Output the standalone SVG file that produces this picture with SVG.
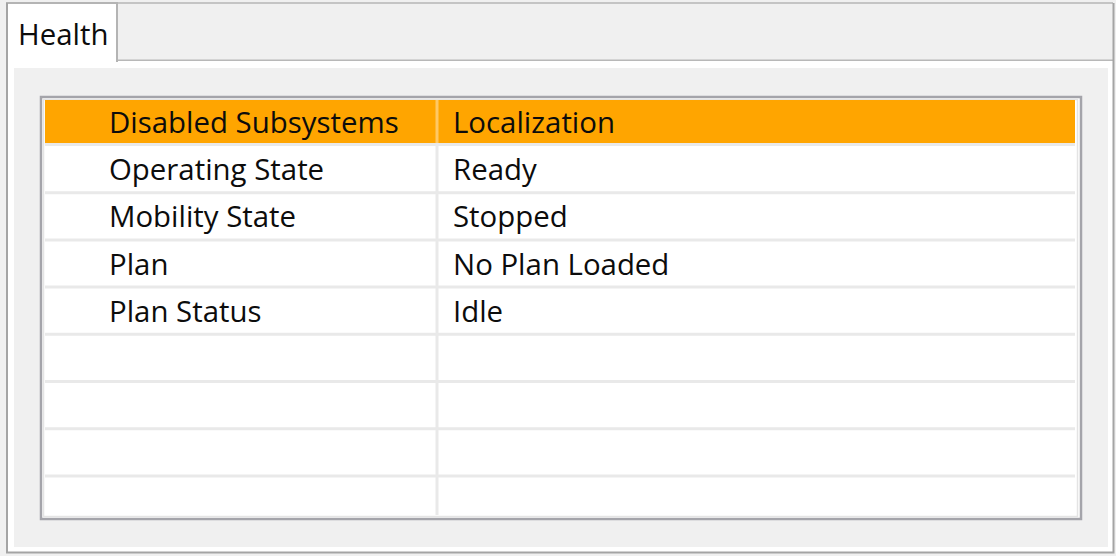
<svg xmlns="http://www.w3.org/2000/svg" width="1116" height="556" viewBox="0 0 1116 556">
  <style>
    .t { font-family: "Open Sans", "Noto Sans", "DejaVu Sans", sans-serif; font-size: 29.4px; fill: #0c0c0c; }
    .sep { stroke: #e9e9e9; stroke-width: 3; }
  </style>
  <rect x="0" y="0" width="1116" height="556" fill="#f0f0f0"/>
  <g id="tab-strip">
    <rect x="117" y="3" width="996" height="59" fill="#f0f0f0"/>
    <line x1="117" y1="3" x2="1113" y2="3" stroke="#c4c4c4" stroke-width="2"/>
    <line x1="117" y1="61" x2="1114" y2="61" stroke="#b8b8b8" stroke-width="3"/>
  </g>
  <g id="pane">
    <rect x="7" y="61" width="1106" height="491" fill="#ffffff"/>
    <path d="M7,3 V552.5 H1113.5 V3" fill="none" stroke="#a4a4a4" stroke-width="2"/>
    <rect x="14" y="68" width="1094" height="479" fill="#f0f0f0"/>
  </g>
  <g id="tab-health">
    <rect x="8" y="3" width="109" height="62" fill="#ffffff"/>
    <path d="M7,62 V3 H117 V62" fill="none" stroke="#b4b4b4" stroke-width="2"/>
    <line x1="7" y1="3" x2="7" y2="62" stroke="#a4a4a4" stroke-width="2"/>
    <text class="t" x="18" y="45">Health</text>
  </g>
  <g id="table">
    <rect x="41" y="97" width="1040" height="422" fill="#ffffff" stroke="#a4a4aa" stroke-width="2.5"/>
    <rect x="43.5" y="99.5" width="1034" height="417" fill="none" stroke="#e4e4e4" stroke-width="1.5"/>
    <rect x="45" y="100" width="1030" height="43" fill="#ffa500"/>
    <line x1="45" y1="144.5" x2="1075" y2="144.5" class="sep"/>
  </g>
  <g id="grid">
    <line x1="437" y1="100" x2="437" y2="143" stroke="#ffc866" stroke-width="3"/>
    <line x1="437" y1="146" x2="437" y2="515" class="sep"/>
    <line x1="45" y1="192.7" x2="1075" y2="192.7" class="sep"/>
    <line x1="45" y1="239.9" x2="1075" y2="239.9" class="sep"/>
    <line x1="45" y1="287.1" x2="1075" y2="287.1" class="sep"/>
    <line x1="45" y1="334.3" x2="1075" y2="334.3" class="sep"/>
    <line x1="45" y1="381.5" x2="1075" y2="381.5" class="sep"/>
    <line x1="45" y1="428.7" x2="1075" y2="428.7" class="sep"/>
    <line x1="45" y1="475.9" x2="1075" y2="475.9" class="sep"/>
  </g>
  <g id="header-row">
    <text class="t" x="109" y="133">Disabled Subsystems</text>
    <text class="t" x="453" y="133">Localization</text>
  </g>
  <g id="row-operating-state">
    <text class="t" x="109" y="180">Operating State</text>
    <text class="t" x="453" y="180">Ready</text>
  </g>
  <g id="row-mobility-state">
    <text class="t" x="109" y="227">Mobility State</text>
    <text class="t" x="453" y="227">Stopped</text>
  </g>
  <g id="row-plan">
    <text class="t" x="109" y="274.5">Plan</text>
    <text class="t" x="453" y="274.5">No Plan Loaded</text>
  </g>
  <g id="row-plan-status">
    <text class="t" x="109" y="321.5">Plan Status</text>
    <text class="t" x="453" y="321.5">Idle</text>
  </g>
</svg>
